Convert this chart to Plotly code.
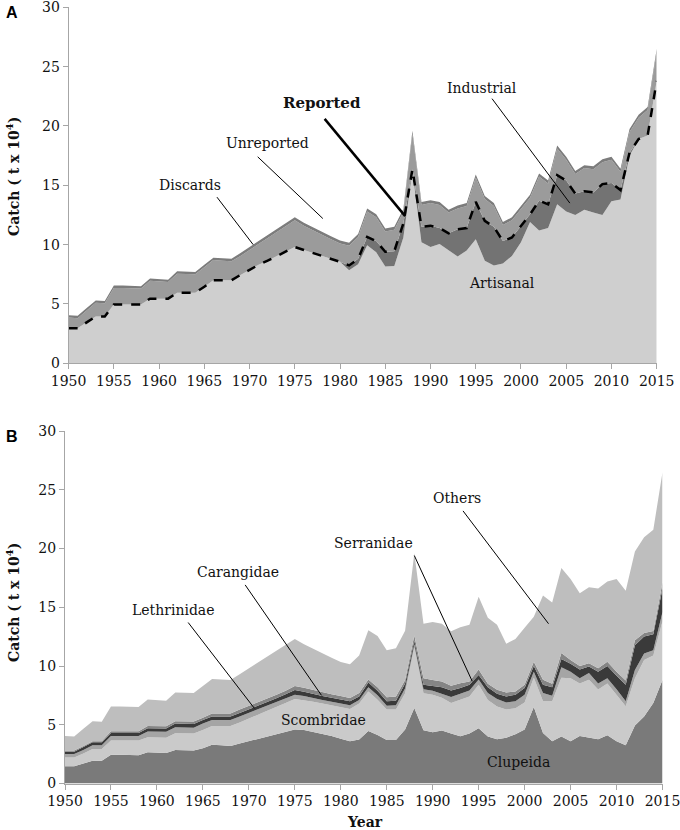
import plotly.graph_objects as go

# Anos
YEARS = list(range(1950, 2016))

# Painel A - captura por setor (t x 10^4)
ARTISANAL = [2.95, 2.95, 3.45, 3.95, 3.95, 4.95, 4.95, 4.95, 4.95, 5.45,
             5.45, 5.45, 5.95, 5.95, 5.95, 6.45, 7.0, 7.0, 7.0, 7.45,
             7.9, 8.3, 8.65, 9.05, 9.4, 9.8, 9.55, 9.3, 9.1, 8.8,
             8.55, 7.85, 8.35, 9.95, 9.35, 8.15, 8.2, 10.6, 16.2, 10.2,
             9.8, 10.05, 9.5, 9.0, 9.5, 10.45, 8.65, 8.25, 8.4, 9.05,
             10.2, 11.9, 11.2, 11.4, 13.4, 12.8, 12.5, 12.95, 12.7, 12.5,
             13.65, 13.8, 17.5, 18.9, 19.2, 23.8]
INDUSTRIAL = [0, 0, 0, 0, 0, 0, 0, 0, 0, 0,
              0, 0, 0, 0, 0, 0, 0, 0, 0, 0,
              0, 0, 0, 0, 0, 0, 0, 0, 0, 0,
              0, 0.4, 0.45, 0.7, 0.95, 1.25, 1.25, 1.2, 0.15, 1.3,
              1.8, 1.35, 1.45, 2.3, 1.9, 3.15, 3.35, 3.25, 1.9, 1.55,
              1.4, 0.65, 2.5, 2.0, 2.45, 2.6, 1.8, 1.55, 1.7, 2.6,
              1.55, 0.8, 0.25, 0, 0, 0]
UNREPORTED = [0.9, 0.85, 1.0, 1.15, 1.1, 1.4, 1.4, 1.35, 1.35, 1.5,
              1.45, 1.4, 1.6, 1.6, 1.55, 1.65, 1.7, 1.65, 1.6, 1.6,
              1.65, 1.75, 1.9, 2.0, 2.15, 2.25, 2.05, 1.9, 1.7, 1.65,
              1.55, 1.65, 1.85, 2.15, 2.0, 1.7, 1.8, 0.95, 3.0, 1.85,
              1.9, 1.95, 1.75, 1.75, 1.85, 2.05, 1.85, 1.75, 1.35, 1.45,
              1.4, 1.4, 2.05, 1.75, 2.25, 1.75, 1.65, 1.95, 1.95, 1.85,
              1.95, 1.55, 1.75, 1.8, 2.15, 2.45]
DISCARDS = [0.2, 0.2, 0.2, 0.2, 0.2, 0.2, 0.2, 0.2, 0.2, 0.2,
            0.2, 0.2, 0.2, 0.2, 0.2, 0.2, 0.2, 0.2, 0.2, 0.25,
            0.25, 0.25, 0.25, 0.25, 0.25, 0.25, 0.25, 0.25, 0.25, 0.25,
            0.25, 0.25, 0.25, 0.25, 0.25, 0.25, 0.25, 0.25, 0.25, 0.25,
            0.25, 0.25, 0.25, 0.25, 0.25, 0.25, 0.25, 0.25, 0.25, 0.25,
            0.25, 0.25, 0.25, 0.25, 0.25, 0.25, 0.25, 0.25, 0.25, 0.25,
            0.25, 0.25, 0.25, 0.25, 0.25, 0.25]
REPORTED = [2.95, 2.95, 3.45, 3.95, 3.95, 4.95, 4.95, 4.95, 4.95, 5.45,
            5.45, 5.45, 5.95, 5.95, 5.95, 6.45, 7.0, 7.0, 7.0, 7.45,
            7.9, 8.3, 8.65, 9.05, 9.4, 9.8, 9.55, 9.3, 9.1, 8.8,
            8.55, 8.25, 8.8, 10.65, 10.3, 9.4, 9.45, 11.8, 16.35, 11.5,
            11.6, 11.4, 10.95, 11.3, 11.4, 13.6, 12.0, 11.5, 10.3, 10.6,
            11.6, 12.55, 13.7, 13.4, 15.85, 15.4, 14.3, 14.5, 14.4, 15.1,
            15.2, 14.6, 17.75, 18.9, 19.2, 23.8]

# Painel B - captura por familia (t x 10^4)
CLUPEIDA = [1.46, 1.46, 1.7, 1.94, 1.94, 2.45, 2.45, 2.42, 2.4, 2.65,
            2.65, 2.6, 2.86, 2.86, 2.8, 3.0, 3.29, 3.26, 3.2, 3.4,
            3.6, 3.8, 4.0, 4.15, 4.4, 4.6, 4.55, 4.4, 4.2, 4.05,
            3.8, 3.6, 3.75, 4.46, 4.12, 3.7, 3.7, 4.6, 6.43, 4.54,
            4.37, 4.5, 4.26, 4.03, 4.26, 4.7, 4.0, 3.76, 3.9, 4.2,
            4.6, 6.5, 4.3, 3.6, 4.0, 3.6, 4.04, 3.9, 3.76, 4.1,
            3.6, 3.25, 4.93, 5.7, 6.85, 8.8]
SCOMBRIDAE = [0.76, 0.76, 0.85, 0.99, 0.99, 1.21, 1.21, 1.24, 1.25, 1.29,
              1.29, 1.3, 1.42, 1.42, 1.45, 1.56, 1.61, 1.64, 1.7, 1.8,
              1.9, 2.05, 2.2, 2.35, 2.45, 2.6, 2.55, 2.55, 2.6, 2.6,
              2.7, 2.75, 3.05, 3.37, 3.01, 2.6, 2.6, 3.09, 5.15, 3.15,
              3.18, 2.8, 2.6, 3.1, 3.15, 3.7, 3.1, 2.79, 2.4, 2.2,
              2.3, 2.5, 2.7, 3.4, 5.0, 5.36, 4.46, 4.92, 4.24, 4.4,
              3.95, 3.32, 4.03, 4.8, 4.05, 5.0]
LETHRINIDAE = [0.28, 0.28, 0.3, 0.32, 0.32, 0.39, 0.39, 0.39, 0.4, 0.48,
               0.48, 0.5, 0.5, 0.5, 0.5, 0.54, 0.5, 0.5, 0.5, 0.5,
               0.5, 0.45, 0.4, 0.4, 0.35, 0.35, 0.35, 0.3, 0.3, 0.3,
               0.3, 0.3, 0.3, 0.37, 0.37, 0.32, 0.35, 0.41, 0.28, 0.34,
               0.35, 0.34, 0.5, 0.51, 0.51, 0.45, 0.6, 0.65, 0.6, 0.59,
               0.65, 0.52, 0.7, 0.46, 0.9, 0.54, 0.46, 0.58, 0.5, 0.46,
               0.48, 0.43, 0.7, 0.57, 0.45, 0.8]
CARANGIDAE = [0.2, 0.2, 0.25, 0.25, 0.25, 0.25, 0.25, 0.25, 0.25, 0.28,
              0.28, 0.28, 0.32, 0.32, 0.32, 0.3, 0.3, 0.3, 0.3, 0.3,
              0.3, 0.35, 0.35, 0.35, 0.4, 0.4, 0.35, 0.35, 0.35, 0.35,
              0.35, 0.35, 0.3, 0.4, 0.4, 0.38, 0.4, 0.4, 0.28, 0.37,
              0.4, 0.56, 0.56, 0.48, 0.48, 0.39, 0.5, 0.44, 0.51, 0.56,
              0.57, 0.48, 0.7, 0.74, 0.7, 0.7, 0.74, 0.55, 1.0, 1.04,
              1.13, 1.4, 2.11, 1.43, 1.35, 2.0]
SERRANIDAE = [0.1, 0.1, 0.1, 0.1, 0.1, 0.15, 0.15, 0.15, 0.15, 0.2,
              0.2, 0.2, 0.2, 0.2, 0.2, 0.2, 0.25, 0.25, 0.25, 0.3,
              0.3, 0.3, 0.3, 0.3, 0.3, 0.35, 0.35, 0.35, 0.3, 0.3,
              0.3, 0.27, 0.3, 0.25, 0.3, 0.35, 0.35, 0.3, 0.46, 0.56,
              0.5, 0.48, 0.39, 0.42, 0.28, 0.46, 0.28, 0.33, 0.34, 0.28,
              0.28, 0.36, 0.42, 0.28, 0.5, 0.3, 0.3, 0.28, 0.3, 0.36,
              0.36, 0.36, 0.43, 0.3, 0.28, 0.5]
OTHERS = [1.25, 1.2, 1.45, 1.7, 1.65, 2.1, 2.1, 2.05, 2.05, 2.25,
          2.2, 2.17, 2.45, 2.45, 2.43, 2.7, 2.95, 2.9, 2.85, 3.0,
          3.2, 3.35, 3.55, 3.75, 3.9, 4.0, 3.7, 3.5, 3.3, 3.1,
          2.9, 2.88, 3.2, 4.2, 4.35, 4.0, 4.1, 4.2, 7.0, 4.64,
          4.95, 4.92, 4.64, 4.76, 4.82, 6.2, 5.62, 5.53, 4.15, 4.47,
          4.85, 3.84, 7.18, 6.92, 7.25, 6.9, 6.2, 6.47, 6.8, 6.84,
          7.88, 7.64, 7.55, 8.15, 8.62, 9.4]

SERIF = "DejaVu Serif"
W, H = 680, 830

fig = go.Figure()

# Painel A - areas empilhadas
for nome, vals, cor in [("Artisanal", ARTISANAL, "#cfcfcf"),
                        ("Industrial", INDUSTRIAL, "#737373"),
                        ("Unreported", UNREPORTED, "#9b9b9b"),
                        ("Discards", DISCARDS, "#7c7c7c")]:
    fig.add_trace(go.Scatter(x=YEARS, y=vals, name=nome, mode="lines",
                             stackgroup="a", fillcolor=cor,
                             line=dict(width=0, color=cor),
                             xaxis="x", yaxis="y"))

fig.add_trace(go.Scatter(x=YEARS, y=REPORTED, name="Reported", mode="lines",
                         line=dict(color="black", width=2.5, dash="dash"),
                         xaxis="x", yaxis="y"))

# Painel B - areas empilhadas
for nome, vals, cor in [("Clupeida", CLUPEIDA, "#7a7a7a"),
                        ("Scombridae", SCOMBRIDAE, "#cacaca"),
                        ("Lethrinidae", LETHRINIDAE, "#a5a5a5"),
                        ("Carangidae", CARANGIDAE, "#3a3a3a"),
                        ("Serranidae", SERRANIDAE, "#858585"),
                        ("Others", OTHERS, "#bebebe")]:
    fig.add_trace(go.Scatter(x=YEARS, y=vals, name=nome, mode="lines",
                             stackgroup="b", fillcolor=cor,
                             line=dict(width=0, color=cor),
                             xaxis="x2", yaxis="y2"))

eixo = dict(showgrid=False, zeroline=False, showline=True, linecolor="#a6a6a6",
            linewidth=1, ticks="outside", ticklen=5, tickcolor="#a6a6a6",
            automargin=False, ticklabeloverflow="allow",
            tickfont=dict(family=SERIF, size=14, color="#111111"))

fig.update_layout(
    width=W, height=H,
    margin=dict(l=0, r=0, t=0, b=0),
    plot_bgcolor="white", paper_bgcolor="white",
    showlegend=False,
    xaxis=dict(eixo, domain=[68.6 / W, 656.7 / W], range=[1950, 2015],
               tick0=1950, dtick=5, anchor="y"),
    yaxis=dict(eixo, domain=[1 - 363.3 / H, 1 - 7.3 / H], range=[0, 30],
               dtick=5, anchor="x"),
    xaxis2=dict(eixo, domain=[65 / W, 662.5 / W], range=[1950, 2015],
                tick0=1950, dtick=5, anchor="y2"),
    yaxis2=dict(eixo, domain=[1 - 783.5 / H, 1 - 431 / H], range=[0, 30],
                dtick=5, anchor="x2"),
)

# Rotulos e linhas de chamada
def rotulo(texto, x, y, eixos, bold=False, size=14):
    fig.add_annotation(x=x, y=y, xref=eixos[0], yref=eixos[1], showarrow=False,
                       xanchor="center", yanchor="middle",
                       text=f"<b>{texto}</b>" if bold else texto,
                       font=dict(family=SERIF, size=size, color="#111111"))


def chamada(x0, y0, x1, y1, eixos, width=1):
    fig.add_shape(type="line", x0=x0, y0=y0, x1=x1, y1=y1,
                  xref=eixos[0], yref=eixos[1],
                  line=dict(color="black", width=width))


A = ("x", "y")
B = ("x2", "y2")

rotulo("Discards", 1963.4, 15.0, A)
chamada(1966.4, 14.0, 1970.4, 10.0, A)
rotulo("Unreported", 1972.0, 18.6, A)
chamada(1970.9, 17.4, 1978.1, 12.2, A)
rotulo("Reported", 1978.0, 21.9, A, bold=True, size=15)
chamada(1978.3, 20.6, 1987.2, 12.4, A, width=2.5)
rotulo("Industrial", 1995.7, 23.2, A)
chamada(1996.8, 22.3, 2005.4, 13.5, A)
rotulo("Artisanal", 1997.9, 6.8, A)

rotulo("Others", 1992.6, 24.3, B)
chamada(1993.3, 23.2, 2002.6, 13.6, B)
rotulo("Serranidae", 1983.6, 20.45, B)
chamada(1988.0, 19.4, 1994.3, 8.7, B)
rotulo("Carangidae", 1968.8, 18.0, B)
chamada(1969.6, 16.9, 1977.9, 7.5, B)
rotulo("Lethrinidae", 1961.8, 14.8, B)
chamada(1963.4, 13.7, 1970.6, 6.4, B)
rotulo("Scombridae", 1978.1, 5.4, B)
rotulo("Clupeida", 1999.3, 1.8, B)

# Titulos dos eixos e letras dos paineis
for y_px in (177, 603):
    fig.add_annotation(x=13 / W, y=1 - y_px / H, xref="paper", yref="paper",
                       showarrow=False, textangle=-90,
                       xanchor="center", yanchor="middle",
                       text="<b>Catch ( t x 10<sup>4</sup>)</b>",
                       font=dict(family=SERIF, size=14, color="#111111"))

fig.add_annotation(x=365 / W, y=1 - 822 / H, xref="paper", yref="paper",
                   showarrow=False, xanchor="center", yanchor="middle",
                   text="<b>Year</b>",
                   font=dict(family=SERIF, size=14, color="#111111"))

for letra, y_px in (("A", 12), ("B", 436)):
    fig.add_annotation(x=12 / W, y=1 - y_px / H, xref="paper", yref="paper",
                       showarrow=False, xanchor="center", yanchor="middle",
                       text=f"<b>{letra}</b>",
                       font=dict(family="Liberation Sans", size=16, color="black"))

# sem margem do body para a figura ocupar a janela inteira
fig.write_html("out.html", config={"displayModeBar": False},
               post_script="document.body.style.margin = '0';")
